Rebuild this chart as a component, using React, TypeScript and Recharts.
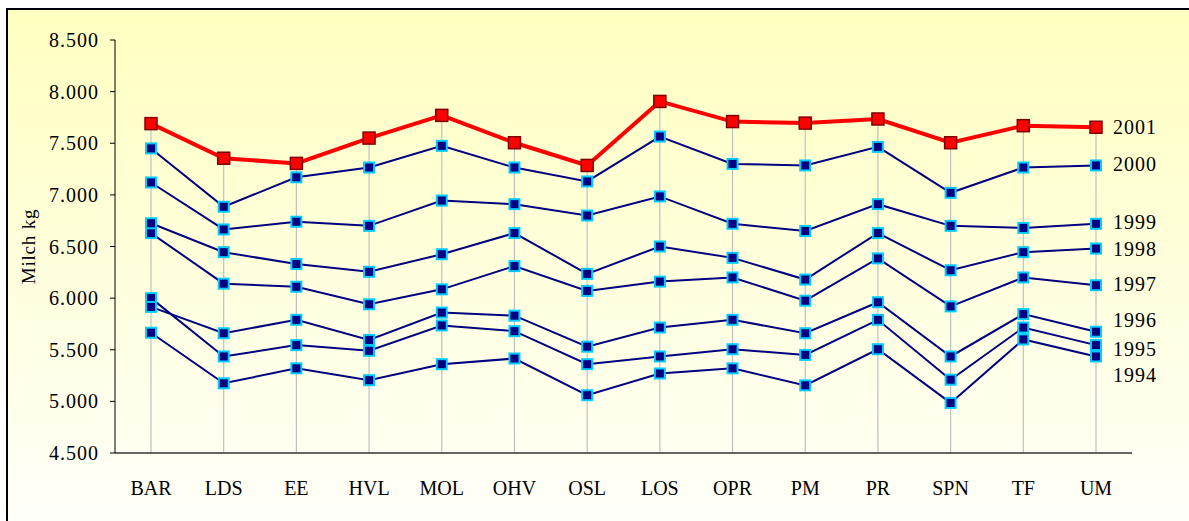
import React from 'react';
import { LineChart, Line, XAxis, YAxis, ReferenceLine } from 'recharts';

const categories = ['BAR', 'LDS', 'EE', 'HVL', 'MOL', 'OHV', 'OSL', 'LOS', 'OPR', 'PM', 'PR', 'SPN', 'TF', 'UM'];

const y1994 = [5665, 5175, 5320, 5205, 5360, 5415, 5060, 5270, 5320, 5155, 5505, 4985, 5600, 5435];
const y1995 = [6000, 5435, 5545, 5490, 5735, 5680, 5360, 5435, 5505, 5450, 5790, 5210, 5715, 5545];
const y1996 = [5915, 5660, 5790, 5595, 5860, 5830, 5530, 5715, 5790, 5660, 5960, 5435, 5845, 5675];
const y1997 = [6630, 6140, 6110, 5940, 6085, 6310, 6070, 6160, 6200, 5975, 6385, 5920, 6200, 6125];
const y1998 = [6725, 6445, 6330, 6255, 6425, 6630, 6235, 6500, 6390, 6180, 6630, 6270, 6445, 6480];
const y1999 = [7120, 6665, 6740, 6700, 6945, 6910, 6800, 6985, 6720, 6650, 6910, 6700, 6680, 6720];
const y2000 = [7450, 6885, 7170, 7265, 7475, 7265, 7130, 7565, 7300, 7285, 7465, 7020, 7265, 7285];
const y2001 = [7690, 7355, 7305, 7550, 7770, 7505, 7285, 7905, 7710, 7695, 7735, 7505, 7670, 7655];

const years = ['1994', '1995', '1996', '1997', '1998', '1999', '2000', '2001'];
const seriesValues = [y1994, y1995, y1996, y1997, y1998, y1999, y2000, y2001];

const yTicks = [4500, 5000, 5500, 6000, 6500, 7000, 7500, 8000, 8500];

const data = categories.map((c, i) => {
  const row: any = { cat: c };
  years.forEach((y, k) => {
    row['y' + y] = seriesValues[k][i];
  });
  return row;
});

// label vertical offsets (style only)
const labelDy: Record<string, number> = {
  '1994': 19,
  '1995': 4,
  '1996': -12,
  '1997': -1,
  '1998': 0,
  '1999': -2,
  '2000': -1,
  '2001': 0,
};

const FONT = '"Liberation Serif", "Times New Roman", serif';

const fmt = (v: number) => {
  const s = String(v);
  return s.length > 3 ? s.slice(0, s.length - 3) + '.' + s.slice(s.length - 3) : s;
};

const blueDot = (props: any) => {
  const { cx, cy, index } = props;
  if (cx == null || cy == null) return <g key={index} />;
  return (
    <rect key={index} x={cx - 5} y={cy - 5} width={10} height={10} fill="#000080" stroke="#00CCFF" strokeWidth={2} />
  );
};

const redDot = (props: any) => {
  const { cx, cy, index } = props;
  if (cx == null || cy == null) return <g key={index} />;
  return (
    <rect key={index} x={cx - 6} y={cy - 6} width={12} height={12} fill="#FF0000" stroke="#800000" strokeWidth={1.5} />
  );
};

const makeLabel = (year: string) => (props: any) => {
  const { x, y, index } = props;
  if (index !== categories.length - 1) return null;
  return (
    <text
      key={'lbl' + year}
      x={x + 17}
      y={y + labelDy[year]}
      dominantBaseline="central"
      fontFamily={FONT}
      fontSize={20}
      letterSpacing={1}
      fill="#000"
    >
      {year}
    </text>
  );
};

const axisLabel = (props: any) => {
  const vb = props.viewBox || {};
  const cx = (vb.x || 0) + 28;
  const cy = (vb.y || 0) + (vb.height || 0) / 2;
  return (
    <text
      x={cx}
      y={cy}
      transform={`rotate(-90 ${cx} ${cy})`}
      textAnchor="middle"
      dominantBaseline="central"
      fontFamily={FONT}
      fontSize={19}
      letterSpacing={0.8}
      fill="#000"
    >
      Milch kg
    </text>
  );
};

export default function App() {
  return (
    <div style={{ position: 'absolute', left: 0, top: 0, width: 1189, height: 521, overflow: 'hidden', background: '#fff' }}>
      <div
        style={{
          position: 'absolute',
          left: 6,
          top: 8,
          width: 1400,
          height: 800,
          border: '2px solid #000',
          background: 'linear-gradient(180deg, #FFFFC0 0px, #FFFFF6 480px, #FFFFFF 540px)',
        }}
      />
      <div style={{ position: 'absolute', left: 0, top: 0 }}>
        <LineChart width={1189} height={521} data={data} margin={{ top: 40, right: 57, bottom: 0, left: 0 }}>
          <XAxis
            dataKey="cat"
            height={68}
            padding={{ left: 36, right: 36 }}
            tickLine={false}
            axisLine={{ stroke: '#333', strokeWidth: 1.5 }}
            tick={{ fill: '#000', fontSize: 20, fontFamily: FONT }}
            tickMargin={22}
            interval={0}
          />
          <YAxis
            width={115}
            domain={[4500, 8500]}
            ticks={yTicks}
            tickFormatter={fmt}
            axisLine={{ stroke: '#000', strokeWidth: 1 }}
            tickLine={{ stroke: '#000' }}
            tickSize={5}
            tickMargin={11}
            tick={{ fill: '#000', fontSize: 20, fontFamily: FONT, letterSpacing: 1 }}
            label={axisLabel}
            allowDataOverflow
          />
          {categories.map((c, i) => (
            <ReferenceLine
              key={'drop' + c}
              segment={[
                { x: c, y: 4500 },
                { x: c, y: y2001[i] },
              ]}
              stroke="#C0C0C0"
              strokeWidth={1.2}
            />
          ))}
          {years.slice(0, 7).map((y) => (
            <Line
              key={y}
              type="linear"
              dataKey={'y' + y}
              stroke="#000080"
              strokeWidth={2}
              dot={blueDot}
              activeDot={false}
              isAnimationActive={false}
              label={makeLabel(y)}
            />
          ))}
          <Line
            type="linear"
            dataKey="y2001"
            stroke="#FF0000"
            strokeWidth={4}
            dot={redDot}
            activeDot={false}
            isAnimationActive={false}
            label={makeLabel('2001')}
          />
        </LineChart>
      </div>
    </div>
  );
}
